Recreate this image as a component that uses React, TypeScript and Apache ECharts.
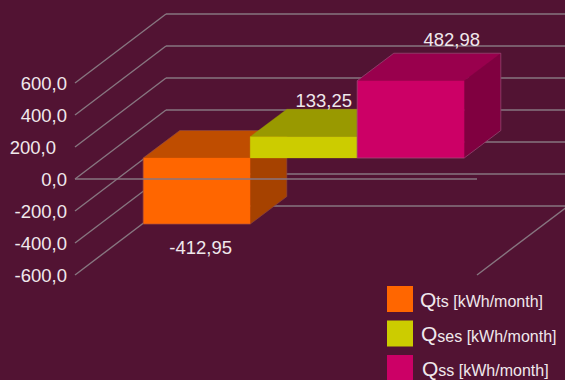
import React, { useEffect, useRef } from "react";
import * as echarts from "echarts";

const categories = ["Qts [kWh/month]", "Qses [kWh/month]", "Qss [kWh/month]"];
const values = [-412.95, 133.25, 482.98];
const ticks = [-600, -400, -200, 0, 200, 400, 600];
const faceColors = [
  { front: "#ff6600", top: "#bf4d00", side: "#a64200", edge: "rgba(130,70,90,0.55)" },
  { front: "#cccc00", top: "#999900", side: "#858500", edge: "none" },
  { front: "#cc0066", top: "#99004d", side: "#800040", edge: "rgba(150,90,125,0.7)" },
];
const labelOffsets = [
  [4, 23],
  [20, -36],
  [41, -41],
];
const legendIndents = [2, 3, 4];

const BG = "#521333";
const GRID = "#877680";
const TEXT = "#f0e8ec";
const WALL = [91, -69];
const INSET = [27.7, -21];
const DEPTH = [36.6, -27.5];
const BAR_RATIO = 0.2662;

const fmt1 = (v: number) => v.toFixed(1).replace(".", ",");
const fmt2 = (v: number) => v.toFixed(2).replace(".", ",");

function App() {
  const ref = useRef<HTMLDivElement>(null);
  useEffect(() => {
    const chart = echarts.init(ref.current!, undefined, { renderer: "svg" });
    const gridLine = (x1: number, y1: number, x2: number, y2: number) => ({
      type: "line",
      shape: { x1, y1, x2, y2 },
      style: { stroke: GRID, lineWidth: 1.4, fill: "none" },
    });
    const wallSeries = {
      type: "custom",
      name: "wall",
      silent: true,
      z: 1,
      data: ticks.map((t) => [0, t]),
      renderItem: (_p: any, api: any) => {
        const [cx, y] = api.coord([0, api.value(1)]);
        const w = api.size([1, 0])[0];
        const x0 = cx - w / 2;
        const x1 = cx + w / 2;
        const children: any[] = [
          gridLine(x0, y, x0 + WALL[0], y + WALL[1]),
          gridLine(x0 + WALL[0], y + WALL[1], x1 + WALL[0], y + WALL[1]),
        ];
        if (api.value(1) === ticks[0]) {
          children.push(gridLine(x1, y, x1 + WALL[0], y + WALL[1]));
        }
        return { type: "group", children };
      },
    };
    const barSeries = categories.map((name, i) => ({
      type: "custom",
      name,
      silent: true,
      z: 2 + i,
      itemStyle: { color: faceColors[i].front },
      data: [[0, values[i]]],
      renderItem: (_p: any, api: any) => {
        const val = api.value(1);
        const [cx, yv] = api.coord([0, val]);
        const y0 = api.coord([0, 0])[1];
        const cell = api.size([1, 0])[0];
        const bw = cell * BAR_RATIO;
        const x = cx - 1.5 * bw + i * bw + INSET[0];
        const top = Math.min(yv, y0) + INSET[1];
        const bot = Math.max(yv, y0) + INSET[1];
        const [dx, dy] = DEPTH;
        const c = faceColors[i];
        const poly = (points: number[][], fill: string) => ({
          type: "polygon",
          shape: { points },
          style: { fill, stroke: fill, lineWidth: 0.3 },
        });
        return {
          type: "group",
          children: [
            poly([[x + bw, top], [x + bw + dx, top + dy], [x + bw + dx, bot + dy], [x + bw, bot]], c.side),
            poly([[x, top], [x + dx, top + dy], [x + bw + dx, top + dy], [x + bw, top]], c.top),
            poly([[x, top], [x + bw, top], [x + bw, bot], [x, bot]], c.front),
            {
              type: "polygon",
              shape: {
                points: [[x, top], [x + dx, top + dy], [x + bw + dx, top + dy], [x + bw + dx, bot + dy], [x + bw, bot], [x, bot]],
              },
              style: { fill: "none", stroke: c.edge, lineWidth: 0.9 },
            },
            {
              type: "text",
              x: x + bw / 2 + labelOffsets[i][0],
              y: (val < 0 ? bot : top) + labelOffsets[i][1],
              style: {
                text: fmt2(val),
                fill: TEXT,
                font: "18.5px 'Liberation Sans'",
                align: "center",
                verticalAlign: "middle",
              },
            },
          ],
        };
      },
    }));
    const zeroSeries = {
      type: "custom",
      name: "zero",
      silent: true,
      z: 10,
      data: [[0, 0]],
      renderItem: (_p: any, api: any) => {
        const [cx, y] = api.coord([0, 0]);
        const w = api.size([1, 0])[0];
        return gridLine(cx - w / 2, y, cx + w / 2, y);
      },
    };
    const richQ = (indent: number) => ({
      color: TEXT,
      fontFamily: "Liberation Sans",
      fontSize: 21,
      padding: [0, 0, 0, indent],
    });
    chart.setOption({
      animation: false,
      backgroundColor: BG,
      grid: { left: 75, width: 402, top: 83, height: 192 },
      xAxis: {
        type: "category",
        data: [""],
        axisLine: { show: false },
        axisTick: { show: false },
        axisLabel: { show: false },
      },
      yAxis: {
        type: "value",
        min: ticks[0],
        max: ticks[ticks.length - 1],
        interval: 200,
        axisLine: { show: false },
        axisTick: { show: false },
        splitLine: { show: false },
        axisLabel: {
          margin: 8,
          color: TEXT,
          fontFamily: "Liberation Sans",
          fontSize: 18.5,
          formatter: (v: number) => (v === 200 ? `{s|${fmt1(v)}}` : fmt1(v)),
          rich: { s: { color: TEXT, fontFamily: "Liberation Sans", fontSize: 18.5, padding: [0, 11, 0, 0] } },
        },
      },
      legend: {
        data: categories,
        orient: "vertical",
        left: 387,
        top: 286,
        width: 178,
        height: 120,
        padding: 0,
        itemWidth: 26,
        itemHeight: 26,
        itemGap: 8.5,
        icon: "rect",
        selectedMode: false,
        formatter: (name: string) =>
          `{q${categories.indexOf(name)}|${name.slice(0, 1)}}{s|${name.slice(1)}}`,
        textStyle: {
          color: TEXT,
          rich: {
            q0: richQ(legendIndents[0]),
            q1: richQ(legendIndents[1]),
            q2: richQ(legendIndents[2]),
            s: { color: TEXT, fontFamily: "Liberation Sans", fontSize: 16, verticalAlign: "bottom", padding: [4, 0, 0, 0] },
          },
        },
      },
      series: [wallSeries, ...barSeries, zeroSeries],
    });
    return () => chart.dispose();
  }, []);
  return <div ref={ref} style={{ width: 565, height: 380, position: "fixed", left: 0, top: 0 }} />;
}

export default App;
